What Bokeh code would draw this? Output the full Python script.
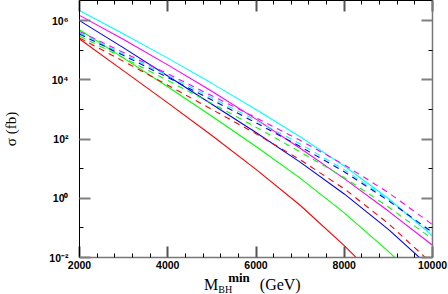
from bokeh.plotting import figure
from bokeh.models import FixedTicker, LogAxis, LinearAxis, Range1d, Div
from bokeh.layouts import column
from bokeh.embed import file_html
from bokeh.resources import INLINE

# minimum black-hole mass (GeV)
mass = [2000, 3000, 4000, 5000, 6000, 7000, 8000, 9000, 10000]

# cross sections sigma (fb)
cyan_solid = [2.2e6, 3.5e5, 5.4e4, 7.6e3, 1.0e3, 120, 12.3, 0.98, 0.054]
magenta_solid = [1.5e6, 2.3e5, 3.2e4, 4.1e3, 470, 49, 4.6, 0.37, 0.026]
blue_solid = [1.0e6, 1.2e5, 1.35e4, 1.5e3, 166, 16.6, 1.4, 0.089, 0.004]
green_solid = [4.9e5, 5.4e4, 5.8e3, 590, 56, 4.8, 0.32, 0.016, 6.2e-4]
red_solid = [2.4e5, 2.0e4, 1.66e3, 132, 9.5, 0.58, 0.025, 8.3e-4, 2.1e-5]

magenta_dashed = [4.3e5, 8.3e4, 1.6e4, 2.9e3, 525, 91, 13.5, 1.55, 0.13]
cyan_dashed = [3.9e5, 7.4e4, 1.4e4, 2.5e3, 427, 69, 9.3, 0.91, 0.063]
blue_dashed = [3.5e5, 6.6e4, 1.2e4, 2.1e3, 355, 56, 7.9, 0.83, 0.071]
green_dashed = [3.0e5, 5.5e4, 9.5e3, 1.6e3, 251, 37, 5.0, 0.51, 0.042]
red_dashed = [2.6e5, 4.2e4, 6.6e3, 1.0e3, 151, 20, 2.1, 0.14, 0.006]

x_ticks = [2000, 4000, 6000, 8000, 10000]
x_minor = [2400, 2800, 3200, 3600, 4400, 4800, 5200, 5600, 6400, 6800,
           7200, 7600, 8400, 8800, 9200, 9600]
y_ticks = [1e-2, 1, 1e2, 1e4, 1e6]
y_minor = [1e-1, 1e1, 1e3, 1e5]
y_labels = ["10⁻²", "10⁰", "10²", "10⁴", "10⁶"]

p = figure(width=448, height=276, x_range=Range1d(2000, 10000),
           y_range=Range1d(1e-2, 4.77e6), y_axis_type="log",
           output_backend="svg", toolbar_location=None,
           min_border_left=74, min_border_right=16, min_border_top=0,
           min_border_bottom=19)
p.grid.visible = False
p.outline_line_color = "black"
p.background_fill_color = "white"
p.border_fill_color = "white"

solid = [(cyan_solid, "#00FFFF"), (magenta_solid, "#FF00FF"),
         (blue_solid, "#0000FF"), (green_solid, "#00FF00"),
         (red_solid, "#FF0000")]
dashed = [(magenta_dashed, "#FF00FF"), (cyan_dashed, "#00FFFF"),
          (blue_dashed, "#0000FF"), (green_dashed, "#00FF00"),
          (red_dashed, "#FF0000")]
for ys, c in solid:
    p.line(mass, ys, line_color=c, line_width=1.1)
for ys, c in dashed:
    p.line(mass, ys, line_color=c, line_width=1.1, line_dash="6 5")


def style(ax, ticker, major_color, line_color):
    ax.ticker = ticker
    ax.major_tick_in = 11
    ax.major_tick_out = 0
    ax.minor_tick_in = 4
    ax.minor_tick_out = 0
    ax.major_tick_line_color = major_color
    ax.major_tick_line_width = 2
    ax.minor_tick_line_color = "black"
    ax.axis_line_color = line_color


xa = p.xaxis[0]
style(xa, FixedTicker(ticks=x_ticks, minor_ticks=x_minor), "#555555", "#777777")
xa.axis_line_width = 1.5
xa.major_label_text_font = "Liberation Sans"
xa.major_label_text_font_size = "10.5px"
xa.major_label_text_font_style = "bold"
xa.major_label_text_color = "black"
xa.major_label_standoff = 3

ya = p.yaxis[0]
style(ya, FixedTicker(ticks=y_ticks, minor_ticks=y_minor), "#808080", "black")
ya.major_label_overrides = {t: s for t, s in zip(y_ticks, y_labels)}
ya.major_label_text_font = "Liberation Sans"
ya.major_label_text_font_size = "10.5px"
ya.major_label_text_font_style = "bold"
ya.major_label_text_color = "black"
ya.major_label_standoff = 11
ya.axis_label = "σ (fb)"
ya.axis_label_text_font = "Liberation Serif"
ya.axis_label_text_font_size = "15px"
ya.axis_label_text_font_style = "normal"
ya.axis_label_text_color = "black"
ya.axis_label_standoff = 27

top = LinearAxis()
style(top, FixedTicker(ticks=x_ticks, minor_ticks=x_minor), "#555555", "black")
top.major_label_text_font_size = "0px"
top.major_label_text_color = None
top.major_label_standoff = 0
p.add_layout(top, "above")

right = LogAxis()
style(right, FixedTicker(ticks=y_ticks, minor_ticks=y_minor), "#808080", "#777777")
right.axis_line_width = 1.5
right.major_label_text_font_size = "0px"
right.major_label_text_color = None
right.major_label_standoff = 0
p.add_layout(right, "right")

xlabel = Div(
    text=('M<span style="font-size:10px;position:relative;top:3px;">BH</span>'
          '<span style="font-size:13px;font-weight:bold;position:relative;'
          'top:-8px;margin-left:-4px;">min</span>'
          '<span style="margin-left:10px;">(GeV)</span>'),
    width=448, height=18, margin=(0, 0, 0, 0),
    styles={"font-family": "Liberation Serif", "font-size": "16px",
            "line-height": "18px", "padding-left": "204px", "color": "black",
            "white-space": "nowrap"})

layout = column(p, xlabel, spacing=0)
open("out.html", "w").write(file_html(layout, INLINE))
